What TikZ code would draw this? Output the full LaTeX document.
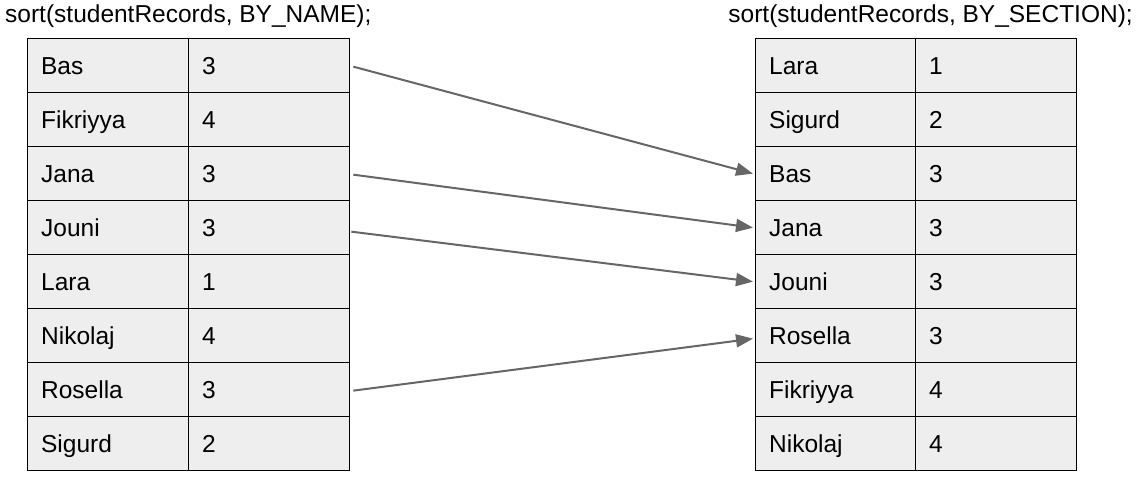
\documentclass[tikz,border=0pt]{standalone}
\usepackage{fontspec}
\setmainfont{Liberation Sans}
\usetikzlibrary{arrows.meta}
\definecolor{cellfill}{HTML}{EEEEEE}
\definecolor{arrowgray}{HTML}{666666}
\begin{document}
\begin{tikzpicture}[x=1pt,y=-1pt,
  every node/.style={font=\fontsize{24.5pt}{28pt}\selectfont},
  cell/.style={draw=black, line width=1.3pt, fill=cellfill, anchor=north west,
    minimum width=161pt, minimum height=54pt, inner xsep=13.5pt, inner ysep=0pt,
    text width=134pt, align=left, text height=17.5pt, text depth=0pt},
  title/.style={inner sep=0pt},
  conn/.style={draw=arrowgray, line width=2pt, -{Triangle[length=17pt,width=13pt]}}]
\useasboundingbox (0,0) rectangle (1137,479);
\node[title, anchor=base west] (tl) at (5,22) {sort(studentRecords, BY\_NAME);};
\node[title, anchor=base east] (tr) at (1133,22) {sort(studentRecords, BY\_SECTION);};
% left table
\foreach \i/\n/\v in {1/Bas/3,2/Fikriyya/4,3/Jana/3,4/Jouni/3,5/Lara/1,6/Nikolaj/4,7/Rosella/3,8/Sigurd/2}{
  \node[cell] (L\i n) at (27,{38+54*(\i-1)}) {\n};
  \node[cell] (L\i v) at (188,{38+54*(\i-1)}) {\v};
}
% right table
\foreach \i/\n/\v in {1/Lara/1,2/Sigurd/2,3/Bas/3,4/Jana/3,5/Jouni/3,6/Rosella/3,7/Fikriyya/4,8/Nikolaj/4}{
  \node[cell] (R\i n) at (755,{38+54*(\i-1)}) {\n};
  \node[cell] (R\i v) at (915,{38+54*(\i-1)}) {\v};
}
\draw[conn] ([xshift=3pt,yshift=-1pt]L1v.east) -- ([xshift=-2pt]R3n.west);
\draw[conn] ([xshift=3pt,yshift=-1pt]L3v.east) -- ([xshift=-2pt]R4n.west);
\draw[conn] ([xshift=1pt,yshift=-4pt]L4v.east) -- ([xshift=-2pt]R5n.west);
\draw[conn] ([xshift=3pt,yshift=-1pt]L7v.east) -- ([xshift=-2pt,yshift=-3pt]R6n.west);
\end{tikzpicture}
\end{document}
